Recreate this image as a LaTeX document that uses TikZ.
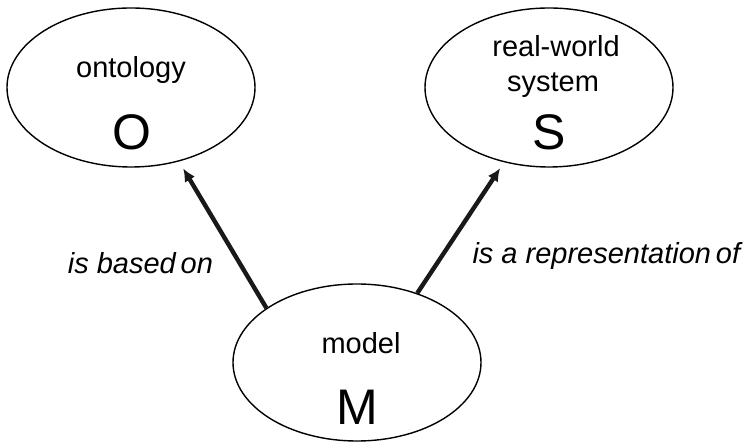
\documentclass[tikz,border=0pt]{standalone}
\usepackage{fontspec}
\setmainfont{Liberation Sans}
\usetikzlibrary{arrows.meta}
\usetikzlibrary{shapes.geometric}
\usetikzlibrary{positioning}

\begin{document}
\begin{tikzpicture}[x=0.5pt,y=-0.5pt,
    blob/.style={draw,ellipse,line width=0.7pt,inner sep=0pt,
      minimum width=124pt,minimum height=79.5pt},
    word/.style={anchor=base,inner sep=0pt,font=\fontsize{14.5}{17}\selectfont},
    letter/.style={anchor=base,inner sep=0pt,font=\fontsize{25}{30}\selectfont},
    lbl/.style={font=\itshape\fontsize{14.5}{17}\selectfont,yshift=-3pt},
    arr/.style={-{Latex[length=6.5pt,width=6pt]},line width=2.2pt,
      draw=black!90}]
      \useasboundingbox (0,0) rectangle (744,442);

      \node[blob] (o) at (131,87.5) {};
      \node[blob] (s) at (549,87.5) {};
      \node[blob,minimum height=78.5pt] (m) at (357,362.5) {};

      \node[word] (o-name) at (131,78) {ontology};
      \node[letter] (o-sym) at (132,150) {O};
      \node[word] (s-name) at (556,57) {real-world};
      \node[word] (s-name2) at (553,92) {system};
      \node[letter] (s-sym) at (549,150) {S};
      \node[word] (m-name) at (361,354) {model};
      \node[letter] (m-sym) at (357,425) {M};

      \draw[arr,shorten >=4pt] (m.149) -- (o.-57)
        node[lbl,pos=.35,left=7pt] (based) {is based\,on};
      \draw[arr,shorten >=3.5pt] (m.49) -- (s.239)
        node[lbl,pos=.35,right=8pt,yshift=-1.5pt] (repr) {is a representation\,of};
    \end{tikzpicture}
\end{document}
